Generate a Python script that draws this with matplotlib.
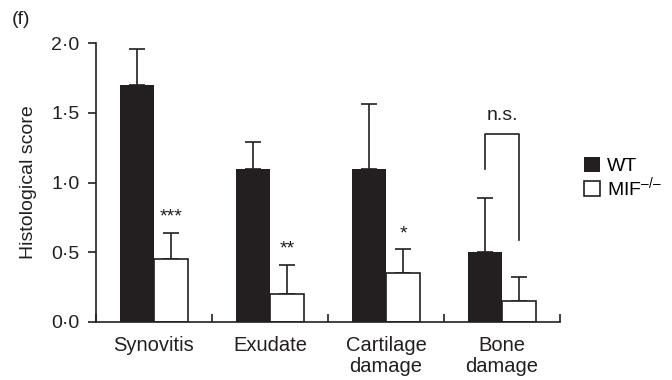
import numpy as np
import matplotlib
matplotlib.use("Agg")
from matplotlib import pyplot as plt

categories = ["Synovitis", "Exudate", "Cartilage\ndamage", "Bone\ndamage"]
wt_mean = [1.70, 1.10, 1.10, 0.50]
wt_err = [0.26, 0.19, 0.46, 0.39]
ko_mean = [0.45, 0.20, 0.35, 0.15]
ko_err = [0.19, 0.21, 0.17, 0.17]
stars = ["***", "**", "*", ""]
yticks = [0.0, 0.5, 1.0, 1.5, 2.0]
ytick_labels = ["0·0", "0·5", "1·0", "1·5", "2·0"]

plt.rcParams["font.family"] = ["Liberation Sans", "DejaVu Sans"]
plt.rcParams["mathtext.fontset"] = "custom"
plt.rcParams["mathtext.rm"] = "Liberation Sans"
ink = "#231f20"

fig = plt.figure(figsize=(6.72, 3.8), dpi=100)
ax = fig.add_axes([96 / 672, 1 - 322 / 380, 464 / 672, 279 / 380])

x = np.arange(len(categories))
w = 0.293
ax.errorbar(x - w / 2, wt_mean, yerr=[np.zeros(4), wt_err], fmt="none", ecolor=ink,
            elinewidth=1.2, capsize=6, capthick=1.2, zorder=1)
ax.errorbar(x + w / 2, ko_mean, yerr=[np.zeros(4), ko_err], fmt="none", ecolor=ink,
            elinewidth=1.2, capsize=6, capthick=1.2, zorder=1)
ax.bar(x - w / 2, wt_mean, w, color=ink, linewidth=0, label="WT", zorder=2)
ax.bar(x + w / 2, ko_mean, w, color="white", edgecolor=ink, linewidth=1.2,
       label="$\\mathregular{MIF^{–/–}}$", zorder=2)

for i, s in enumerate(stars):
    if s:
        ax.text(x[i] + w / 2, ko_mean[i] + ko_err[i] + 0.05, s, ha="center", va="bottom",
                fontsize=14, color=ink)

# n.s. bracket over bone damage
xl, xr = x[3] - w / 2, x[3] + w / 2
ax.plot([xl, xl, xr, xr], [1.10, 1.35, 1.35, 0.59], color=ink, lw=1.2, clip_on=False)
ax.text(x[3], 1.42, "n.s.", ha="center", va="bottom", fontsize=14, color=ink)

ax.set_xlim(-0.5, 3.5)
ax.set_ylim(0, 2.0)
ax.spines["top"].set_visible(False)
ax.spines["right"].set_visible(False)
for sp in ["left", "bottom"]:
    ax.spines[sp].set_linewidth(1.2)
    ax.spines[sp].set_color(ink)

ax.set_yticks(yticks)
ax.set_yticklabels(ytick_labels, fontsize=14, color=ink)
ax.tick_params(axis="y", direction="out", length=6, width=1.2, colors=ink, pad=6)

ax.set_xticks(np.arange(-0.5, 4, 1.0))
ax.set_xticklabels([])
ax.tick_params(axis="x", which="major", direction="in", length=6, width=1.2, colors=ink)
ax.set_xticks(x, minor=True)
ax.set_xticklabels(categories, minor=True, fontsize=14.5, color=ink, linespacing=1.15)
ax.tick_params(axis="x", which="minor", length=0, pad=10)

ax.set_ylabel("Histological score", fontsize=14, color=ink, labelpad=10)

fig.text(12 / 672, 1 - 20 / 380, "(f)", fontsize=14, color=ink, va="center")

ax.legend(loc="center left", bbox_to_anchor=(1.035, 0.515), frameon=False, fontsize=14,
          handlelength=0.8, handleheight=0.8, handletextpad=0.4, labelspacing=0.0,
          borderaxespad=0)

fig.savefig("out.png", dpi=100)
